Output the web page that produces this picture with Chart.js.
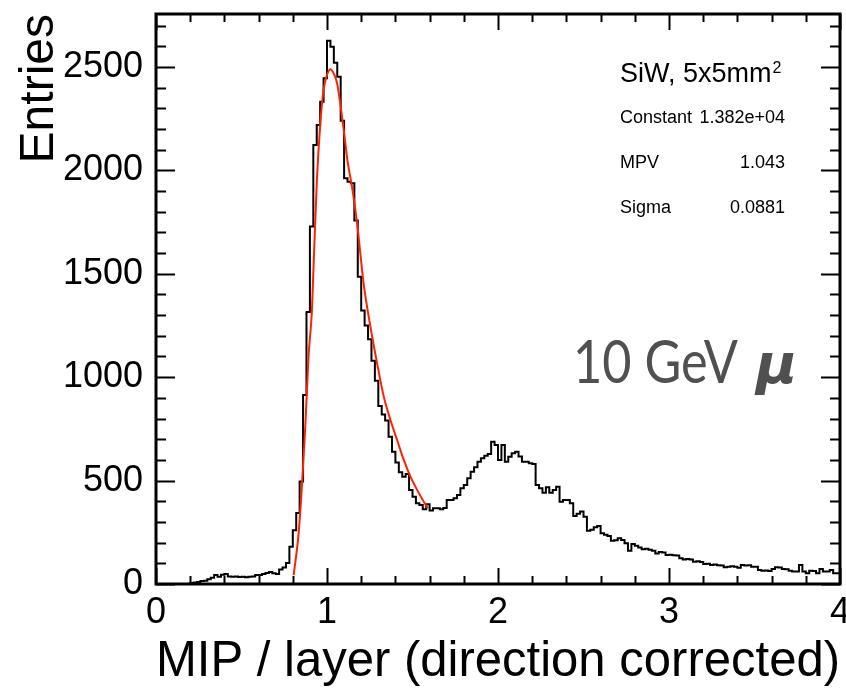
<!DOCTYPE html>
<html>
<head>
<meta charset="utf-8">
<script src="https://cdn.jsdelivr.net/npm/chart.js@4.4.1/dist/chart.umd.min.js"></script>
<style>
  html, body { margin: 0; padding: 0; background: #fff; }
</style>
</head>
<body>
<canvas id="mipChart" width="846" height="695"></canvas>
<script>
// MIP / layer histogram, 200 bins of 0.02 between 0 and 4
const binWidth = 0.02;
const entries = [
    0, 0, 0, 0, 0, 0, 0, 0, 0, 0,
    0, 5, 7, 10, 14, 16, 23, 30, 43, 35,
    45, 48, 36, 35, 36, 34, 35, 33, 35, 36,
    43, 43, 48, 53, 58, 52, 48, 70, 80, 101,
    180, 260, 343, 495, 914, 1315, 1728, 2123, 2219, 2332,
    2445, 2627, 2598, 2520, 2453, 2240, 1962, 1945, 1938, 1757,
    1486, 1322, 1250, 1183, 1080, 983, 861, 820, 790, 712,
    640, 587, 540, 519, 532, 455, 422, 390, 382, 361,
    385, 355, 366, 366, 362, 368, 406, 406, 415, 430,
    463, 479, 511, 543, 565, 591, 608, 620, 629, 688,
    672, 600, 672, 591, 615, 632, 640, 616, 591, 591,
    584, 580, 479, 463, 441, 468, 441, 455, 470, 398,
    406, 406, 390, 329, 340, 350, 325, 258, 262, 274,
    280, 245, 238, 232, 209, 212, 221, 213, 197, 161,
    193, 185, 177, 168, 170, 165, 161, 148, 155, 152,
    140, 142, 139, 138, 124, 119, 121, 118, 108, 110,
    106, 97, 98, 92, 94, 91, 90, 81, 84, 86,
    83, 78, 92, 90, 91, 84, 83, 68, 64, 65,
    63, 72, 81, 80, 72, 71, 64, 60, 61, 92,
    60, 52, 64, 63, 52, 72, 60, 61, 68, 52
];

// landau fit (red)
const fitX = [0.805, 0.834, 0.853, 0.873, 0.892, 0.912, 0.922, 0.941, 0.961, 0.980,
              1.0, 1.019, 1.039, 1.059, 1.078, 1.10, 1.121, 1.146, 1.176, 1.214,
              1.254, 1.293, 1.332, 1.371, 1.410, 1.449, 1.488, 1.527, 1.566, 1.59];
const fitY = [43, 245, 470, 760, 1099, 1325, 1551, 1953, 2228, 2389,
              2461, 2489, 2469, 2421, 2320, 2180, 2040, 1921, 1744, 1454,
              1244, 1067, 906, 793, 696, 600, 519, 455, 398, 366];

const xTicks = [0, 1, 2, 3, 4];
const yTicks = [0, 500, 1000, 1500, 2000, 2500];
const yMax = 2756;
const minorDivs = 5;

const statNames = ['Constant', 'MPV', 'Sigma'];
const statValues = ['1.382e+04', '1.043', '0.0881'];

const fontFamily = '"Liberation Sans", Arial, Helvetica, sans-serif';

// step outline: one point per lower bin edge, plus the right edge
const histPoints = entries.map((v, i) => ({ x: i * binWidth, y: v }));
histPoints.push({ x: entries.length * binWidth, y: entries[entries.length - 1] });
const fitPoints = fitX.map((x, i) => ({ x: x, y: fitY[i] }));

// ROOT style frame with inward ticks on all four sides
const framePlugin = {
    id: 'frame',
    afterDatasetsDraw(chart) {
        const { ctx, chartArea: a, scales: { x, y } } = chart;
        ctx.save();
        ctx.strokeStyle = '#000';
        ctx.lineWidth = 2;
        ctx.beginPath();
        for (let k = 0; k < xTicks.length; k++) {
            const step = k < xTicks.length - 1 ? (xTicks[k + 1] - xTicks[k]) / minorDivs : 0;
            const n = k < xTicks.length - 1 ? minorDivs : 1;
            for (let m = 0; m < n; m++) {
                const px = Math.round(x.getPixelForValue(xTicks[k] + m * step)) + 0.5;
                const len = m === 0 ? 16 : 8;
                ctx.moveTo(px, a.bottom); ctx.lineTo(px, a.bottom - len);
                ctx.moveTo(px, a.top); ctx.lineTo(px, a.top + len);
            }
        }
        for (let k = 0; k < yTicks.length; k++) {
            const step = (yTicks[1] - yTicks[0]) / minorDivs;
            for (let m = 0; m < minorDivs; m++) {
                const v = yTicks[k] + m * step;
                if (v > yMax) break;
                const py = Math.round(y.getPixelForValue(v)) + 0.5;
                const len = m === 0 ? 19 : 10;
                ctx.moveTo(a.left, py); ctx.lineTo(a.left + len, py);
                ctx.moveTo(a.right, py); ctx.lineTo(a.right - len, py);
            }
        }
        ctx.stroke();
        ctx.lineWidth = 3;
        ctx.strokeRect(a.left, a.top, a.right - a.left, a.bottom - a.top);
        ctx.restore();
    }
};

// fit box and beam label
const textPlugin = {
    id: 'labels',
    afterDraw(chart) {
        const ctx = chart.ctx;
        ctx.save();
        ctx.fillStyle = '#000';
        ctx.textBaseline = 'alphabetic';
        ctx.textAlign = 'left';
        ctx.font = '27px ' + fontFamily;
        const head = 'SiW, 5x5mm';
        ctx.fillText(head, 620, 82);
        const supX = 620 + ctx.measureText(head).width + 1;
        ctx.font = '16px ' + fontFamily;
        ctx.fillText('2', supX, 73);

        ctx.font = '18px ' + fontFamily;
        const rows = [123, 168, 213];
        statNames.forEach((name, i) => {
            ctx.textAlign = 'left';
            ctx.fillText(name, 620, rows[i]);
            ctx.textAlign = 'right';
            ctx.fillText(statValues[i], 785, rows[i]);
        });

        ctx.fillStyle = '#505050';
        ctx.textAlign = 'left';
        ctx.font = '60px Lato, "Open Sans", sans-serif';
        ctx.fillText('10 GeV', 573, 383, 165);
        ctx.font = 'italic bold 56px "DejaVu Sans", sans-serif';
        ctx.fillText('\u03bc', 756, 383);
        ctx.restore();
    }
};

const mipChart = new Chart(document.getElementById('mipChart').getContext('2d'), {
    type: 'line',
    data: {
        datasets: [
            {
                label: 'landau fit',
                data: fitPoints,
                borderColor: '#ff2200',
                borderWidth: 2,
                pointRadius: 0,
                cubicInterpolationMode: 'monotone',
                order: 0
            },
            {
                label: 'Entries',
                data: histPoints,
                borderColor: '#000',
                borderWidth: 2,
                pointRadius: 0,
                stepped: 'after',
                order: 1
            }
        ]
    },
    options: {
        responsive: false,
        animation: false,
        devicePixelRatio: 1,
        layout: { padding: { left: 0, right: 6, top: 14, bottom: 0 } },
        plugins: {
            legend: { display: false },
            tooltip: { enabled: false }
        },
        scales: {
            x: {
                type: 'linear',
                min: 0,
                max: 4,
                grid: { display: false, drawTicks: false },
                border: { display: false },
                afterBuildTicks: s => { s.ticks = xTicks.map(v => ({ value: v })); },
                afterFit: s => { s.height = 111; s.paddingLeft = 0; s.paddingRight = 0; },
                ticks: {
                    padding: 7,
                    color: '#000',
                    maxRotation: 0,
                    autoSkip: false,
                    callback: v => String(v),
                    font: { family: fontFamily, size: 36 }
                },
                title: {
                    display: true,
                    text: 'MIP / layer (direction corrected)',
                    align: 'end',
                    color: '#000',
                    font: { family: fontFamily, size: 50 },
                    padding: { top: 0, bottom: 3 }
                }
            },
            y: {
                type: 'linear',
                min: 0,
                max: yMax,
                grid: { display: false, drawTicks: false },
                border: { display: false },
                afterBuildTicks: s => { s.ticks = yTicks.map(v => ({ value: v })); },
                afterFit: s => { s.width = 156; s.paddingTop = 0; s.paddingBottom = 0; },
                ticks: {
                    padding: 13,
                    color: '#000',
                    callback: v => String(v),
                    font: { family: fontFamily, size: 36 }
                },
                title: {
                    display: true,
                    text: 'Entries',
                    align: 'end',
                    color: '#000',
                    font: { family: fontFamily, size: 48 },
                    padding: { top: 11, bottom: 0 }
                }
            }
        }
    },
    plugins: [framePlugin, textPlugin]
});
</script>
</body>
</html>
